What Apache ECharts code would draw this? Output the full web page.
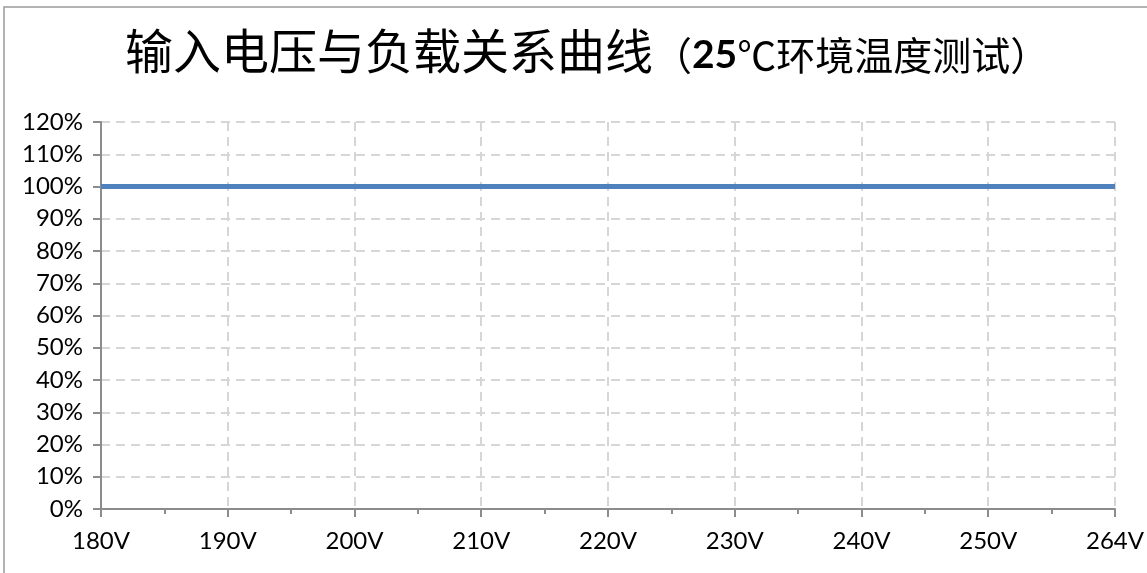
<!DOCTYPE html>
<html><head><meta charset="utf-8">
<script src="https://cdn.jsdelivr.net/npm/echarts@6/dist/echarts.min.js"></script>
<style>html,body{margin:0;padding:0;background:#fff;}#c{width:1147px;height:573px;}</style>
</head><body><div id="c"></div>
<script>
var voltages = ['180V','190V','200V','210V','220V','230V','240V','250V','264V'];
var loadPercent = [100, 100, 100, 100, 100, 100, 100, 100, 100];
var yMin = 0, yMax = 120, yStep = 10;
var titleMain = '输入电压与负载关系曲线';
var titleSub = '（25℃环境温度测试）';

var minorCats = [];
voltages.forEach(function (v, i) { minorCats.push(v); if (i < voltages.length - 1) minorCats.push(v + '-m'); });

var chart = echarts.init(document.getElementById('c'));
chart.setOption({
  backgroundColor: '#fff',
  animation: false,
  title: {
    text: '{a|' + titleMain + '}{b|（}{n|25}{b|℃环境温度测试）}',
    left: 120, top: 22,
    textStyle: {
      rich: {
        a: { fontFamily: 'Noto Sans CJK SC', fontSize: 48, color: '#000', fontWeight: 'normal' },
        b: { fontFamily: 'Noto Sans CJK SC', fontSize: 39, color: '#000', fontWeight: 'normal', padding: [8, 0, 0, 0] },
        n: { fontFamily: 'Lato', fontSize: 39, color: '#000', fontWeight: 'bold', padding: [8, 0, 0, 0] }
      }
    }
  },
  graphic: [{
    type: 'rect', z: -1, silent: true,
    shape: { x: 4, y: 7, width: 1170, height: 600 },
    style: { fill: 'none', stroke: '#9a9a9a', lineWidth: 1.5 }
  }],
  grid: { left: 101, right: 32, top: 122, bottom: 64 },
  xAxis: [{
    type: 'category', data: voltages, boundaryGap: false,
    axisLine: { lineStyle: { color: '#8c8c8c', width: 2 } },
    axisTick: { length: 8, lineStyle: { color: '#8c8c8c', width: 2 } },
    axisLabel: { fontFamily: 'Lato', fontSize: 24, color: '#000', margin: 20 },
    splitLine: { show: true, lineStyle: { color: '#d6d6d6', width: 2, type: [9, 6] } }
  }, {
    type: 'category', data: minorCats, boundaryGap: false, position: 'bottom',
    axisLine: { show: false },
    axisTick: { length: 5, lineStyle: { color: '#8c8c8c', width: 2 } },
    axisLabel: { show: false },
    splitLine: { show: false }
  }],
  yAxis: {
    type: 'value', min: yMin, max: yMax, interval: yStep,
    axisLine: { show: true, lineStyle: { color: '#8c8c8c', width: 2 } },
    axisTick: { show: true, length: 8, lineStyle: { color: '#8c8c8c', width: 2 } },
    axisLabel: { fontFamily: 'Lato', fontSize: 24, color: '#000', margin: 18, formatter: '{value}%' },
    splitLine: { show: true, lineStyle: { color: '#d6d6d6', width: 2, type: [9, 6] } }
  },
  series: [{
    type: 'line', data: loadPercent, xAxisIndex: 0,
    symbol: 'none', lineStyle: { color: '#4f81bd', width: 5 }, z: 5
  }]
});
</script></body></html>
